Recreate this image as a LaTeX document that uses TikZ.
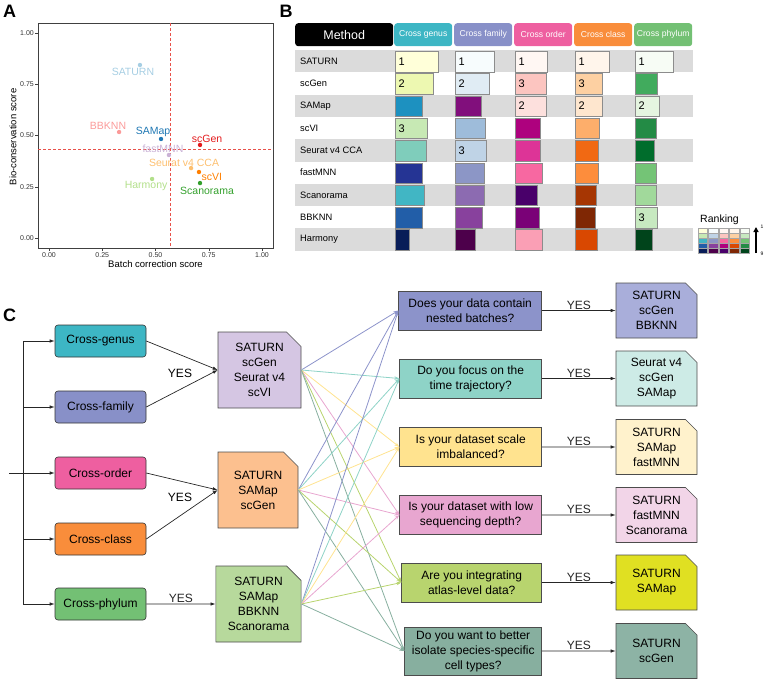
\documentclass[tikz,border=0pt]{standalone}
\usepackage{fontspec}
\setmainfont{Liberation Sans}
\usetikzlibrary{positioning,arrows.meta,shapes.misc}

\newcommand{\fsz}[2]{\fontsize{#1}{#2}\selectfont}

% scatter colours
\definecolor{pSat}{HTML}{A6CEE3}\definecolor{pSam}{HTML}{1F78B4}
\definecolor{pHar}{HTML}{B2DF8A}\definecolor{pSca}{HTML}{33A02C}
\definecolor{pBbk}{HTML}{FB9A99}\definecolor{pGen}{HTML}{E31A1C}
\definecolor{pSeu}{HTML}{FDBF6F}\definecolor{pVi}{HTML}{FF7F00}
\definecolor{pMnn}{HTML}{CAB2D6}\definecolor{cutred}{HTML}{E8514A}
% ranking palettes
\definecolor{ygb1}{HTML}{FFFFD9}\definecolor{ygb2}{HTML}{EDF8B1}\definecolor{ygb3}{HTML}{C7E9B4}
\definecolor{ygb4}{HTML}{7FCDBB}\definecolor{ygb5}{HTML}{41B6C4}\definecolor{ygb6}{HTML}{1D91C0}
\definecolor{ygb7}{HTML}{225EA8}\definecolor{ygb8}{HTML}{253494}\definecolor{ygb9}{HTML}{081D58}
\definecolor{bup1}{HTML}{F7FCFD}\definecolor{bup2}{HTML}{E0ECF4}\definecolor{bup3}{HTML}{BFD3E6}
\definecolor{bup4}{HTML}{9EBCDA}\definecolor{bup5}{HTML}{8C96C6}\definecolor{bup6}{HTML}{8C6BB1}
\definecolor{bup7}{HTML}{88419D}\definecolor{bup8}{HTML}{810F7C}\definecolor{bup9}{HTML}{4D004B}
\definecolor{rdp1}{HTML}{FFF7F3}\definecolor{rdp2}{HTML}{FDE0DD}\definecolor{rdp3}{HTML}{FCC5C0}
\definecolor{rdp4}{HTML}{FA9FB5}\definecolor{rdp5}{HTML}{F768A1}\definecolor{rdp6}{HTML}{DD3497}
\definecolor{rdp7}{HTML}{AE017E}\definecolor{rdp8}{HTML}{7A0177}\definecolor{rdp9}{HTML}{49006A}
\definecolor{ora1}{HTML}{FFF5EB}\definecolor{ora2}{HTML}{FEE6CE}\definecolor{ora3}{HTML}{FDD0A2}
\definecolor{ora4}{HTML}{FDAE6B}\definecolor{ora5}{HTML}{FD8D3C}\definecolor{ora6}{HTML}{F16913}
\definecolor{ora7}{HTML}{D94801}\definecolor{ora8}{HTML}{A63603}\definecolor{ora9}{HTML}{7F2704}
\definecolor{grn1}{HTML}{F7FCF5}\definecolor{grn2}{HTML}{E5F5E0}\definecolor{grn3}{HTML}{C7E9C0}
\definecolor{grn4}{HTML}{A1D99B}\definecolor{grn5}{HTML}{74C476}\definecolor{grn6}{HTML}{41AB5D}
\definecolor{grn7}{HTML}{238B45}\definecolor{grn8}{HTML}{006D2C}\definecolor{grn9}{HTML}{00441B}
% panel C colours
\definecolor{cGenus}{HTML}{3DB6C4}\definecolor{cFamily}{HTML}{8890C8}
\definecolor{cOrder}{HTML}{EE5FA0}\definecolor{cClass}{HTML}{F98D3B}
\definecolor{cPhylum}{HTML}{73C074}
\definecolor{mPurple}{HTML}{D5C6E3}\definecolor{mOrange}{HTML}{FCC08F}\definecolor{mGreen}{HTML}{B7D99C}
\definecolor{q1c}{HTML}{8C93CA}\definecolor{q2c}{HTML}{8ED3C7}\definecolor{q3c}{HTML}{FFE38F}
\definecolor{q4c}{HTML}{E8A6D0}\definecolor{q5c}{HTML}{B8D46E}\definecolor{q6c}{HTML}{87AF9F}
\definecolor{r1c}{HTML}{A9AEDA}\definecolor{r2c}{HTML}{CDEBE6}\definecolor{r3c}{HTML}{FFF2CC}
\definecolor{r4c}{HTML}{F2D5E8}\definecolor{r5c}{HTML}{E0E022}\definecolor{r6c}{HTML}{8DB3A5}

\begin{document}
\begin{tikzpicture}[x=1pt,y=-1pt,
  panel/.style={font=\bfseries\fsz{18}{18}, inner sep=0},
  tick/.style={font=\fsz{7}{8}, text=black!80, inner sep=1pt},
  axlab/.style={font=\fsz{9.5}{11}, inner sep=0},
  cutoff/.style={cutred, dash pattern=on 3pt off 2pt, line width=0.8pt},
  mthd/.style={rounded corners=3pt, fill=black, text=white, minimum width=98pt, minimum height=23pt, font=\fsz{12.5}{14}, anchor=north west},
  colhd/.style={rounded corners=3pt, text=white, minimum width=58pt, minimum height=23pt, font=\fsz{8.6}{10}, inner sep=0, anchor=north west},
  mname/.style={anchor=west, font=\fsz{9.3}{11}, inner sep=0},
  bar/.style={draw=black!45, line width=0.6pt, anchor=north west, minimum height=20.5pt, inner sep=0},
  rank/.style={anchor=west, font=\fsz{11}{12}, inner sep=0, xshift=3.5pt},
  catbox/.style={draw=black!80, rounded corners=3pt, minimum width=91pt, minimum height=32pt, font=\fsz{12}{15}, line width=0.6pt},
  docbox/.style={chamfered rectangle, chamfered rectangle corners=north east, chamfered rectangle xsep=11pt, draw=black!70, align=center, font=\fsz{12}{15}, line width=0.6pt, inner sep=1pt},
  resbox/.style={docbox, chamfered rectangle xsep=8pt, minimum width=81pt, minimum height=55pt},
  qbox/.style={draw=black!70, align=center, font=\fsz{12}{15}, minimum height=39pt, line width=0.6pt, inner sep=1pt},
  arr/.style={-{Latex[length=5pt,width=3.5pt]}, line width=0.7pt, black!85},
  fan/.style={-{Stealth[length=5pt,width=3.5pt]}, line width=0.8pt},
  yes/.style={font=\fsz{12}{14}, inner sep=1pt}]
\useasboundingbox (0,0) rectangle (764,680);

% A
\node[panel] (labA) at (9.5,11.5) {A};
\draw[black!75, line width=0.8pt] (38,23) rectangle (273,248);
\foreach \v [count=\i] in {0.00,0.25,0.50,0.75,1.00}{
  \draw[black!75] ({49+213*\v},248) -- ({49+213*\v},251);
  \node[tick, anchor=north] (xt\i) at ({49+213*\v},251) {\v};
  \draw[black!75] (35,{238-205*\v}) -- (38,{238-205*\v});
  \node[tick, anchor=east] (yt\i) at (35,{238-205*\v}) {\v};
}
\node[axlab] (xlab) at (155.5,264) {Batch correction score};
\node[axlab, rotate=90] (ylab) at (13,137) {Bio-conservation score};
\draw[cutoff] (170,23) -- (170,248);
\draw[cutoff] (38,149.4) -- (273,149.4);
\begin{scope}[shift={(49,238)}, x=213pt, y=205pt]
\foreach \id/\n/\x/\y/\c/\dx/\dy in {sat/SATURN/0.427/0.844/pSat/-7/-7,
    bbk/BBKNN/0.329/0.517/pBbk/-11/6, sam/SAMap/0.526/0.483/pSam/-8/7,
    gen/scGen/0.709/0.454/pGen/7/6, mnn/fastMNN/0.563/0.405/pMnn/-6/6,
    seu/Seurat v4 CCA/0.667/0.341/pSeu/-7/5, vi/scVI/0.704/0.322/pVi/13/-5,
    har/Harmony/0.484/0.288/pHar/-6/-7, sca/Scanorama/0.709/0.268/pSca/7/-8}{
  \fill[\c] (\x,\y) circle (2.2pt);
  \node[font=\fsz{10.5}{12}, text=\c, inner sep=0, xshift=\dx pt, yshift=\dy pt] (lb\id) at (\x,\y) {\n};
}
\end{scope}

% B
\node[panel] (labB) at (286,11.5) {B};
\node[mthd] (mth) at (295,23) {Method};
\foreach \i/\t/\c in {0/Cross genus/cGenus, 1/Cross family/cFamily, 2/Cross order/cOrder, 3/Cross class/cClass, 4/Cross phylum/cPhylum}
  \node[colhd, fill=\c] (hd\i) at ({394+60*\i},23) {\t};
\foreach \r in {1,3,5,7,9}
  \fill[black!14] (295,{50+(\r-1)*22.3}) rectangle (693,{50+\r*22.3});
\foreach \r/\m in {1/SATURN,2/scGen,3/SAMap,4/scVI,5/Seurat v4 CCA,6/fastMNN,7/Scanorama,8/BBKNN,9/Harmony}
  \node[mname] (mn\r) at (300,{50+(\r-0.5)*22.3}) {\m};
\foreach \r/\w/\k in {1/42.7/1,2/38.3/2,3/27.3/6,4/31.7/3,5/31.3/4,6/27/8,7/29.3/5,8/27.3/7,9/14.3/9}{
  \node[bar, fill=ygb\k, minimum width=\w pt] (bg\r) at (395,{51+(\r-1)*22.3}) {};
  \node[rank] (kg\r) at (bg\r.west) {\ifnum\k<4 \k\fi};
}
\foreach \r/\w/\k in {1/39.3/1,2/34.3/2,3/26.3/8,4/30.3/4,5/31.3/3,6/29.3/5,7/28.7/6,8/27.3/7,9/20.3/9}{
  \node[bar, fill=bup\k, minimum width=\w pt] (bf\r) at (455,{51+(\r-1)*22.3}) {};
  \node[rank] (kf\r) at (bf\r.west) {\ifnum\k<4 \k\fi};
}
\foreach \r/\w/\k in {1/32.3/1,2/31.3/3,3/31.3/2,4/24.7/7,5/24.7/6,6/26.7/5,7/22.3/9,8/24/8,9/27/4}{
  \node[bar, fill=rdp\k, minimum width=\w pt] (bo\r) at (515,{51+(\r-1)*22.3}) {};
  \node[rank] (ko\r) at (bo\r.west) {\ifnum\k<4 \k\fi};
}
\foreach \r/\w/\k in {1/34.3/1,2/26.7/3,3/27.3/2,4/23.7/4,5/23/6,6/23/5,7/21/8,8/20.3/9,9/21.7/7}{
  \node[bar, fill=ora\k, minimum width=\w pt] (bc\r) at (575,{51+(\r-1)*22.3}) {};
  \node[rank] (kc\r) at (bc\r.west) {\ifnum\k<4 \k\fi};
}
\foreach \r/\w/\k in {1/38.3/1,2/21.7/6,3/24.3/2,4/20.7/7,5/18.7/8,6/21.3/5,7/21.3/4,8/22.3/3,9/17/9}{
  \node[bar, fill=grn\k, minimum width=\w pt] (bp\r) at (635,{51+(\r-1)*22.3}) {};
  \node[rank] (kp\r) at (bp\r.west) {\ifnum\k<4 \k\fi};
}
\node[font=\fsz{10.5}{12}, inner sep=0] (rkt) at (719.5,220) {Ranking};
\foreach \p [count=\i] in {ygb,bup,rdp,ora,grn}
  \foreach \k [count=\j] in {1,3,5,7,9}
    \node[draw=black!35, line width=0.3pt, fill=\p\k, minimum width=9.4pt, minimum height=5pt, inner sep=0, anchor=north west] (lg\i\j) at ({698+10.4*(\i-1)},{228+5*(\j-1)}) {};
\coordinate (rkbot) at (756,253);
\coordinate (rktop) at (756,227);
\draw[-{Triangle[length=5pt,width=5pt]}, line width=1.3pt] (rkbot) -- (rktop);
\node[font=\fsz{5}{6}, inner sep=0] (rk1) at (762,227) {1};
\node[font=\fsz{5}{6}, inner sep=0] (rk9) at (762,254) {9};

% C
\node[panel] (labC) at (9.5,315) {C};
\node[catbox, fill=cGenus] (genus) at (100.5,341) {Cross-genus};
\node[catbox, fill=cFamily] (family) at (100.5,407) {Cross-family};
\node[catbox, fill=cOrder] (order) at (100.5,473) {Cross-order};
\node[catbox, fill=cClass] (class) at (100.5,539) {Cross-class};
\node[catbox, fill=cPhylum] (phylum) at (100.5,604) {Cross-phylum};
\coordinate (trunk) at (23,0);
\coordinate (src) at (9,473);
\draw[line width=0.7pt, black!85] (genus.west -| trunk) -- (phylum.west -| trunk);
\foreach \n in {genus,family,class,phylum}
  \draw[arr] (\n.west -| trunk) -- (\n);
\draw[arr] (src) -- (order);

\node[docbox, fill=mPurple, minimum width=83pt, minimum height=76pt] (mid1) at (259.5,370) {SATURN\\scGen\\Seurat v4\\scVI};
\node[docbox, fill=mOrange, minimum width=80pt, minimum height=76pt] (mid2) at (258,490) {SATURN\\SAMap\\scGen};
\node[docbox, fill=mGreen, minimum width=83pt, minimum height=76pt] (mid3) at (258.5,604) {SATURN\\SAMap\\BBKNN\\Scanorama};
\draw[arr] (genus.east) -- (mid1.west);
\draw[arr] (family.east) -- (mid1.west);
\node[yes] (yes1) at (180,373) {YES};
\draw[arr] (order.east) -- (mid2.west);
\draw[arr] (class.east) -- (mid2.west);
\node[yes] (yes2) at (180,497) {YES};
\draw[arr] (phylum) -- node[yes, above] (yes3) {YES} (mid3);

\node[qbox, fill=q1c, minimum width=143pt, anchor=east] (q1) at (542,310.5) {Does your data contain\\nested batches?};
\node[qbox, fill=q2c, minimum width=142pt, anchor=east] (q2) at (542,378.5) {Do you focus on the\\time trajectory?};
\node[qbox, fill=q3c, minimum width=142pt, anchor=east] (q3) at (542,447) {Is your dataset scale\\imbalanced?};
\node[qbox, fill=q4c, minimum width=142pt, anchor=east] (q4) at (542,515) {Is your dataset with low\\sequencing depth?};
\node[qbox, fill=q5c, minimum width=140pt, anchor=east] (q5) at (542,582.5) {Are you integrating\\atlas-level data?};
\node[qbox, fill=q6c, minimum width=137pt, minimum height=48pt, anchor=east] (q6) at (542,651) {Do you want to better\\isolate species-specific\\cell types?};
\foreach \m in {mid1,mid2,mid3}
  \foreach \i in {1,...,6}
    \draw[fan, q\i c] (\m.east) -- (q\i.west);

\node[resbox, fill=r1c] (r1) at (656.5,310.5) {SATURN\\scGen\\BBKNN};
\node[resbox, fill=r2c] (r2) at (656.5,378.5) {Seurat v4\\scGen\\SAMap};
\node[resbox, fill=r3c] (r3) at (656.5,447) {SATURN\\SAMap\\fastMNN};
\node[resbox, fill=r4c] (r4) at (656.5,515) {SATURN\\fastMNN\\Scanorama};
\node[resbox, fill=r5c] (r5) at (656.5,582.5) {SATURN\\SAMap};
\node[resbox, fill=r6c] (r6) at (656.5,651) {SATURN\\scGen};
\foreach \i in {1,...,6}
  \draw[arr] (q\i) -- node[yes, above] (yq\i) {YES} (r\i);
\end{tikzpicture}
\end{document}
